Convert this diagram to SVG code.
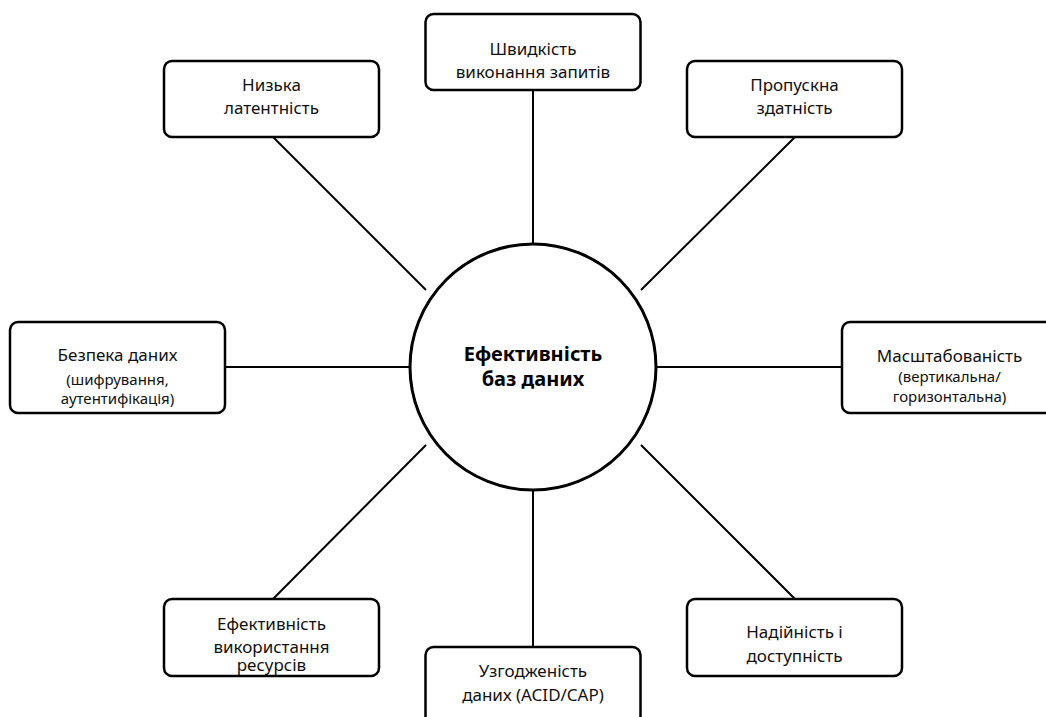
<svg xmlns="http://www.w3.org/2000/svg" width="1046" height="717" viewBox="0 0 1046 717">
<style>
.box{fill:#fff;stroke:#000;stroke-width:2.5}
.hub{fill:#fff;stroke:#000;stroke-width:3}
.t{font-family:"Noto Sans","Open Sans",sans-serif;font-size:17px;fill:#111;text-anchor:middle}
.s{font-size:15px}
.b{font-family:"Noto Sans","Open Sans",sans-serif;font-size:20px;font-weight:bold;fill:#000;text-anchor:middle}
.c{stroke:#000;stroke-width:2;fill:none}
</style>
<rect width="1046" height="717" fill="#fff"/>
<g id="connectors">
<line class="c" x1="273" y1="137" x2="426" y2="290"/>
<line class="c" x1="533" y1="90" x2="533" y2="245"/>
<line class="c" x1="795" y1="137" x2="641" y2="290"/>
<line class="c" x1="225" y1="367" x2="410" y2="367"/>
<line class="c" x1="657" y1="367" x2="842" y2="367"/>
<line class="c" x1="426" y1="445" x2="273" y2="599"/>
<line class="c" x1="533" y1="490" x2="533" y2="647"/>
<line class="c" x1="641" y1="445" x2="795" y2="599"/>
</g>
<g id="hub">
<circle class="hub" cx="533" cy="367" r="123"/>
<text class="b" x="533" y="361">Ефективність</text>
<text class="b" x="533" y="386">баз даних</text>
</g>
<g id="n-latency">
<rect class="box" x="164" y="61" width="215" height="76" rx="8"/>
<text class="t" x="271.5" y="91">Низька</text>
<text class="t" x="271.5" y="114">латентність</text>
</g>
<g id="n-speed">
<rect class="box" x="425.5" y="14" width="215" height="76" rx="8"/>
<text class="t" x="533" y="55">Швидкість</text>
<text class="t" x="533" y="78">виконання запитів</text>
</g>
<g id="n-throughput">
<rect class="box" x="687" y="61" width="215" height="76" rx="8"/>
<text class="t" x="794.5" y="91">Пропускна</text>
<text class="t" x="794.5" y="114">здатність</text>
</g>
<g id="n-security">
<rect class="box" x="10" y="322" width="215" height="91" rx="8"/>
<text class="t" x="117.5" y="361">Безпека даних</text>
<text class="t s" x="117.5" y="385">(шифрування,</text>
<text class="t s" x="117.5" y="404">аутентифікація)</text>
</g>
<g id="n-scale">
<rect class="box" x="842" y="322" width="215" height="91" rx="8"/>
<text class="t" x="949.5" y="362">Масштабованість</text>
<text class="t s" x="949.5" y="382">(вертикальна/</text>
<text class="t s" x="949.5" y="402">горизонтальна)</text>
</g>
<g id="n-resources">
<rect class="box" x="164" y="599" width="215" height="77" rx="8"/>
<text class="t" x="271.5" y="630">Ефективність</text>
<text class="t" x="271.5" y="653">використання</text>
<text class="t" x="271.5" y="671">ресурсів</text>
</g>
<g id="n-consistency">
<rect class="box" x="425.5" y="647" width="215" height="77" rx="8"/>
<text class="t" x="533" y="677">Узгодженість</text>
<text class="t" x="533" y="701">даних (ACID/CAP)</text>
</g>
<g id="n-reliability">
<rect class="box" x="687" y="599" width="215" height="77" rx="8"/>
<text class="t" x="794.5" y="638">Надійність і</text>
<text class="t" x="794.5" y="662">доступність</text>
</g>
</svg>
